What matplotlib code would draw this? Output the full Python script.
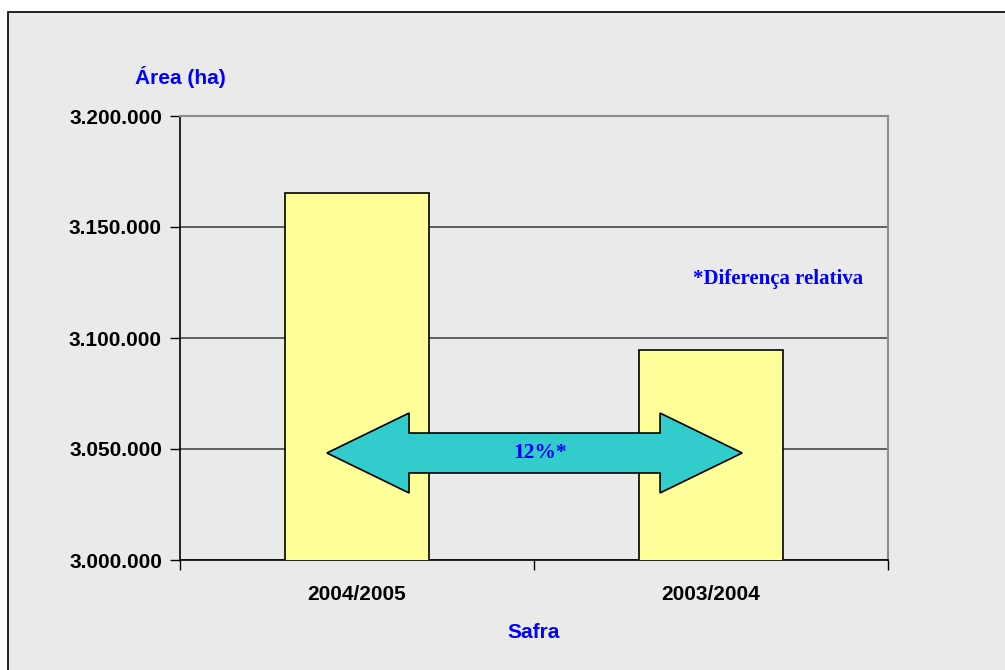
import matplotlib.pyplot as plt
from matplotlib.patches import Polygon, Rectangle
from matplotlib.ticker import FuncFormatter

# Data
safras = ['2004/2005', '2003/2004']
area_ha = [3165500, 3094500]
diff_label = '12%*'
note_label = '*Diferença relativa'
y_ticks = [3000000, 3050000, 3100000, 3150000, 3200000]

BG = '#EAEAEA'
BAR_COLOR = '#FFFF99'
ARROW_COLOR = '#33CCCC'
BLUE = '#0000FF'

plt.rcParams['font.family'] = ['Liberation Sans', 'DejaVu Sans']

fig = plt.figure(figsize=(10.05, 6.7), dpi=100, facecolor='white')
# outer chart frame
frame = Rectangle((8 / 1005, -0.05), 1.1, 1.05 - 12 / 670,
                  transform=fig.transFigure, facecolor=BG,
                  edgecolor='black', linewidth=1.2, zorder=-10)
fig.add_artist(frame)

ax = fig.add_axes([180 / 1005, 1 - 560 / 670, 708 / 1005, 444 / 670])
ax.set_facecolor(BG)

x = list(range(len(safras)))
ax.bar(x, area_ha, width=0.404, bottom=0, color=BAR_COLOR,
       edgecolor='black', linewidth=1.2, zorder=3)

ax.set_ylim(y_ticks[0], y_ticks[-1])
ax.set_xlim(-0.5, len(safras) - 0.5)
ax.set_yticks(y_ticks)
ax.yaxis.set_major_formatter(FuncFormatter(lambda v, p: f'{int(v):,}'.replace(',', '.')))
ax.yaxis.grid(True, color='#3a3a3a', linewidth=1.1, zorder=1)
ax.set_axisbelow(True)

ax.set_xticks(x)
ax.set_xticklabels(safras)
ax.set_xticks([i - 0.5 for i in range(len(safras) + 1)], minor=True)
ax.tick_params(axis='x', which='major', length=0, pad=18)
ax.tick_params(axis='x', which='minor', length=7, width=1)
ax.tick_params(axis='y', length=7, width=1, pad=6)
for lab in ax.get_xticklabels() + ax.get_yticklabels():
    lab.set_fontsize(15)
    lab.set_fontweight('bold')

for s in ['left', 'bottom']:
    ax.spines[s].set_color('black')
    ax.spines[s].set_linewidth(1.2)
for s in ['right', 'top']:
    ax.spines[s].set_color('#8c8c8c')
    ax.spines[s].set_linewidth(1.5)

ax.set_xlabel('Safra', fontsize=15, fontweight='bold', color=BLUE, labelpad=14)
fig.text(180 / 1005, 1 - 77 / 670, 'Área (ha)', fontsize=15, fontweight='bold',
         color=BLUE, ha='center', va='center')

# double-headed arrow between the bars
yc = 3048200
x0, x1 = x[0] - 0.085, x[1] + 0.088
head = 0.232
sh, hh = 9000, 18000
arrow = Polygon([(x0, yc), (x0 + head, yc + hh), (x0 + head, yc + sh),
                 (x1 - head, yc + sh), (x1 - head, yc + hh), (x1, yc),
                 (x1 - head, yc - hh), (x1 - head, yc - sh),
                 (x0 + head, yc - sh), (x0 + head, yc - hh)],
                closed=True, facecolor=ARROW_COLOR, edgecolor='black',
                linewidth=1.2, zorder=4)
ax.add_patch(arrow)
ax.text((x0 + x1) / 2 + 0.017, yc, diff_label, fontsize=15.5, fontweight='bold',
        color=BLUE, ha='center', va='center', family='Liberation Serif', zorder=5)
ax.text(x[1] + 0.19, 3126600, note_label, fontsize=15, fontweight='bold',
        color=BLUE, ha='center', va='center', family='Liberation Serif', zorder=5)

fig.savefig('out.png', dpi=100, facecolor='white')
